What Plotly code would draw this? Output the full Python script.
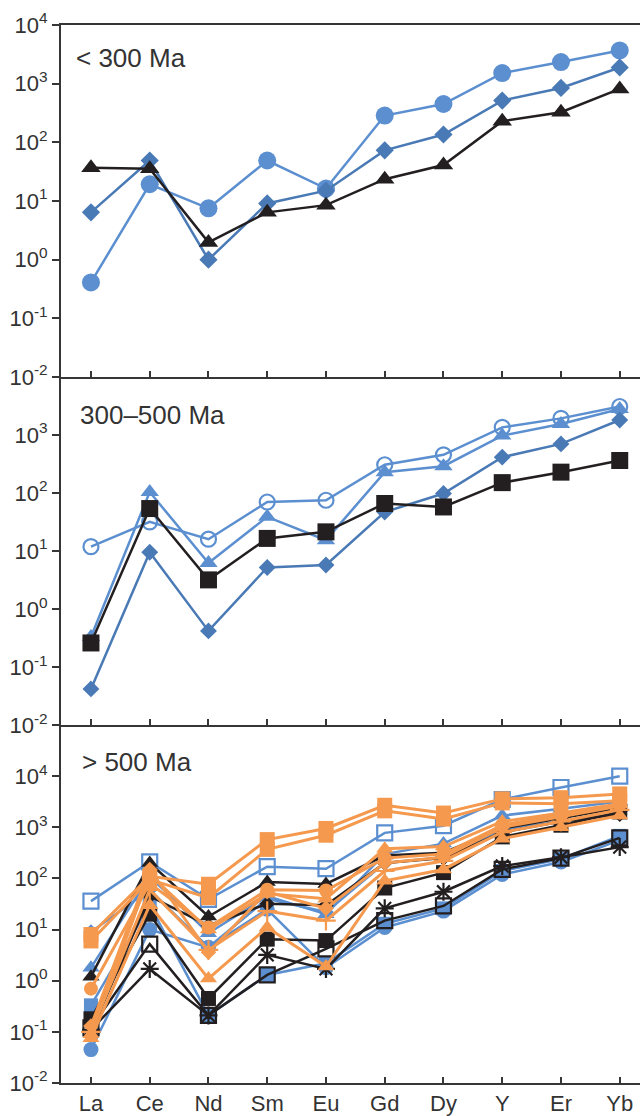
import plotly.graph_objects as go

categories = ["La", "Ce", "Nd", "Sm", "Eu", "Gd", "Dy", "Y", "Er", "Yb"]
panel_labels = ["< 300 Ma", "300\u2013500 Ma", "> 500 Ma"]

# Panel 1 (< 300 Ma)
p1_circle = [0.41, 19.3, 7.5, 49, 16.3, 286, 450, 1515, 2335, 3680]
p1_diamond = [6.4, 49, 1.0, 9.1, 15, 73, 136, 515, 845, 1890]
p1_triangle = [37, 35.6, 1.97, 6.4, 8.5, 23.5, 41, 229, 326, 813]

# Panel 2 (300-500 Ma)
p2_open_circle = [11.9, 31.8, 16, 70, 75, 307, 456, 1355, 1935, 3100]
p2_triangle = [0.33, 104, 6.2, 38.8, 15.4, 229, 290, 977, 1550, 2805]
p2_diamond = [0.042, 9.5, 0.42, 5.2, 5.75, 47, 98, 415, 703, 1815]
p2_square = [0.26, 54, 3.18, 16.5, 21.4, 66, 57.5, 151, 229, 364]

# Panel 3 (> 500 Ma)
p3_blue_open_square = [36, 210, 39, 170, 155, 780, 1075, 3500, 6000, 10000]
p3_blue_triangle = [1.8, 110, 8.5, 45, 20, 300, 480, 1700, 2300, 3200]
p3_blue_diamond = [9, 60, 4.5, 40, 22, 200, 260, 900, 1300, 1900]
p3_blue_square = [0.33, 30, 0.21, 1.3, 2.2, 13, 26, 140, 240, 680]
p3_blue_circle = [0.045, 10, 4.5, 25, 1.8, 11, 23, 120, 210, 560]
p3_black_triangle = [1.2, 200, 18, 85, 78, 280, 320, 950, 1500, 2400]
p3_black_diamond = [0.1, 45, 12, 32, 30, 200, 250, 800, 1300, 1800]
p3_black_square = [0.18, 20, 0.45, 6.5, 6.1, 65, 130, 650, 1100, 2000]
p3_black_open_square = [0.12, 5.2, 0.21, 1.3, 4.2, 15, 29, 150, 250, 620]
p3_black_asterisk = [0.11, 1.7, 0.21, 3.2, 1.7, 26, 55, 175, 260, 410]
p3_orange_square_a = [8, 110, 77, 575, 950, 2700, 1900, 3600, 3800, 4500]
p3_orange_square_b = [6, 95, 42, 370, 700, 2100, 1450, 3000, 2900, 3300]
p3_orange_circle = [0.7, 80, 11, 60, 58, 250, 300, 1100, 1800, 2800]
p3_orange_diamond = [0.13, 150, 3.6, 55, 26, 200, 260, 1000, 1600, 2600]
p3_orange_plus = [0.1, 60, 4, 23, 15, 140, 220, 800, 1300, 2200]
p3_orange_triangle_a = [0.075, 30, 1.1, 11, 1.9, 90, 150, 600, 1000, 1700]
p3_orange_triangle_b = [0.09, 120, 10, 50, 40, 380, 420, 1300, 1900, 2900]

LBLUE = "#5B8FD0"
SBLUE = "#4A7AB5"
BLACK = "#231F20"
ORANGE = "#F4994E"
AXC = "#363636"
FONT = "Liberation Sans, Arial, Helvetica, sans-serif"

fig = go.Figure()


def add(vals, color, symbol, size, panel, lw=2.5, mlw=2.2):
    ax = "" if panel == 1 else str(panel)
    if "open" in symbol:
        marker = dict(symbol=symbol, size=size, color=color,
                      line=dict(color=color, width=mlw))
    else:
        marker = dict(symbol=symbol, size=size, color=color, line=dict(width=0))
    fig.add_trace(go.Scatter(
        x=categories, y=vals, mode="lines+markers",
        line=dict(color=color, width=lw), marker=marker,
        xaxis="x" + ax, yaxis="y" + ax, showlegend=False, hoverinfo="skip"))


# panel 1
add(p1_circle, LBLUE, "circle", 18, 1)
add(p1_diamond, SBLUE, "diamond", 14, 1)
add(p1_triangle, BLACK, "triangle-up", 17, 1)

# panel 2
add(p2_open_circle, LBLUE, "circle-open", 15, 2)
add(p2_triangle, LBLUE, "triangle-up", 16, 2)
add(p2_diamond, SBLUE, "diamond", 13, 2)
add(p2_square, BLACK, "square", 17, 2)

# panel 3
add(p3_blue_open_square, LBLUE, "square-open", 15, 3)
add(p3_blue_triangle, LBLUE, "triangle-up", 15, 3)
add(p3_blue_diamond, LBLUE, "diamond", 12, 3)
add(p3_blue_circle, LBLUE, "circle", 15, 3)
add(p3_blue_square, LBLUE, "square", 14, 3)
add(p3_black_triangle, BLACK, "triangle-up", 15, 3)
add(p3_black_diamond, BLACK, "diamond", 12, 3)
add(p3_black_square, BLACK, "square", 15, 3)
add(p3_black_open_square, BLACK, "square-open", 15, 3)
add(p3_black_asterisk, BLACK, "asterisk-open", 15, 3)
add(p3_orange_plus, ORANGE, "cross-thin-open", 14, 3, lw=3)
add(p3_orange_triangle_b, ORANGE, "triangle-up", 15, 3, lw=3)
add(p3_orange_circle, ORANGE, "circle", 14, 3, lw=3)
add(p3_orange_diamond, ORANGE, "diamond", 12, 3, lw=3)
add(p3_orange_triangle_a, ORANGE, "triangle-up", 15, 3, lw=3)
add(p3_orange_square_b, ORANGE, "square", 15, 3, lw=3)
add(p3_orange_square_a, ORANGE, "square", 15, 3, lw=3)

exps = [-2, -1, 0, 1, 2, 3, 4]


def ytick_text(e):
    return "10<sup>%s</sup>" % (str(e) if e >= 0 else "-" + str(-e))


# plot area: top 25, bottom 1092 of 1116
H = 1116
top, bot = 25, 1092
span = bot - top
b12 = 380
b23 = 731
d1 = [(bot - b12) / span, 1]
d2 = [(bot - b23) / span, (bot - b12) / span]
d3 = [0, (bot - b23) / span]

common_x = dict(range=[-0.51, 9.345], showline=True, linecolor=AXC, linewidth=2,
                ticks="inside", ticklen=6, tickwidth=2, tickcolor=AXC,
                showgrid=False, zeroline=False, fixedrange=True,
                tickfont=dict(family=FONT, size=22, color="#333"))
common_y = dict(type="log", showline=True, linecolor=AXC, linewidth=2,
                ticks="outside", ticklen=7, tickwidth=2, tickcolor=AXC,
                showgrid=False, zeroline=False,
                tickfont=dict(family=FONT, size=22, color="#333"))

tv1 = [10 ** e for e in exps]
tt1 = [ytick_text(e) for e in exps]
tv2 = [10 ** e for e in exps[:-1]]
tt2 = [ytick_text(e) for e in exps[:-1]]

fig.update_layout(
    width=640, height=H,
    margin=dict(l=61, r=0, t=top, b=H - bot),
    paper_bgcolor="white", plot_bgcolor="white",
    xaxis=dict(common_x, domain=[0, 1], anchor="y", showticklabels=False, mirror=True),
    xaxis2=dict(common_x, domain=[0, 1], anchor="y2", showticklabels=False),
    xaxis3=dict(common_x, domain=[0, 1], anchor="y3", showticklabels=True),
    yaxis=dict(common_y, domain=d1, anchor="x", range=[-2, 4], tickvals=tv1, ticktext=tt1),
    yaxis2=dict(common_y, domain=d2, anchor="x2", range=[-2, 4], tickvals=tv2, ticktext=tt2),
    yaxis3=dict(common_y, domain=d3, anchor="x3", range=[-2, 5], tickvals=tv1, ticktext=tt1),
)

for lab, xpix, ypix in [(panel_labels[0], 74, 58),
                        (panel_labels[1], 78, 418),
                        (panel_labels[2], 80, 768)]:
    fig.add_annotation(
        text=lab, xref="paper", yref="paper",
        x=(xpix - 61) / (640 - 61), y=(bot - ypix) / span,
        xanchor="left", yanchor="middle", showarrow=False,
        font=dict(family=FONT, size=26, color="#333"))

fig.write_html("out.html", config={"staticPlot": True},
               post_script="document.body.style.margin='0';document.body.style.overflow='hidden';")
